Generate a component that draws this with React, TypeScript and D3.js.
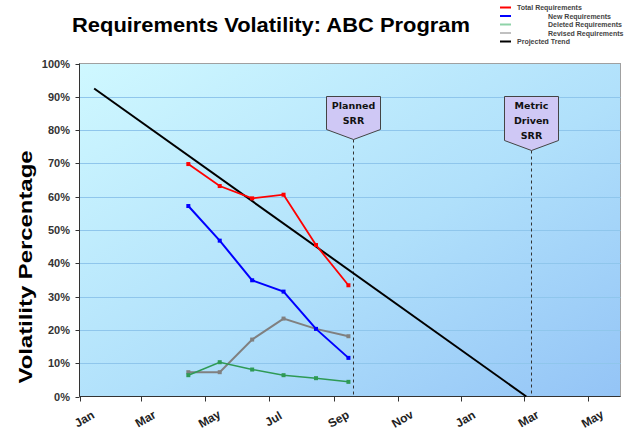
import React from "react";
import * as d3 from "d3";

const W = 627;
const H = 435;

const dataDates = ["2007-04-15", "2007-05-15", "2007-06-15", "2007-07-15", "2007-08-15", "2007-09-15"];
const totalReq = [69.8, 63.2, 59.5, 60.6, 45.5, 33.4];
const newReq = [57.2, 46.8, 34.9, 31.5, 20.3, 11.6];
const deletedReq = [6.4, 10.3, 8.1, 6.4, 5.5, 4.4];
const revisedReq = [7.3, 7.3, 17.1, 23.4, 20.3, 18.1];
const trendDates = ["2007-01-15", "2008-03-03"];
const trendValues = [92.5, 0];

const xTickDates = ["2007-01-01", "2007-03-01", "2007-05-01", "2007-07-01", "2007-09-01", "2007-11-01", "2008-01-01", "2008-03-01", "2008-05-01"];
const xTickLabels = ["Jan", "Mar", "May", "Jul", "Sep", "Nov", "Jan", "Mar", "May"];
const yTicks = [0, 10, 20, 30, 40, 50, 60, 70, 80, 90, 100];

const milestones = [
  { date: "2007-09-19", lines: ["Planned", "SRR"] },
  { date: "2008-03-07", lines: ["Metric", "Driven", "SRR"] },
];

const legendItems = [
  { label: "Total Requirements", color: "#ff0000", indent: false },
  { label: "New Requirements", color: "#0000ff", indent: true },
  { label: "Deleted Requirements", color: "#8fd3a8", indent: true },
  { label: "Revised Requirements", color: "#c0c0c0", indent: true },
  { label: "Projected Trend", color: "#000000", indent: false },
];

const series = [
  { name: "Revised", values: revisedReq, color: "#808080", width: 2 },
  { name: "Deleted", values: deletedReq, color: "#2e9a55", width: 1.5 },
  { name: "New", values: newReq, color: "#0000ff", width: 2 },
  { name: "Total", values: totalReq, color: "#ff0000", width: 1.8 },
];

const parse = d3.utcParse("%Y-%m-%d");

export default function App() {
  const left = 79.5;
  const right = 620.5;
  const top = 63.5;
  const bottom = 396.5;

  const x = d3
    .scaleUtc()
    .domain([parse("2007-01-01") as Date, parse("2008-06-01") as Date])
    .range([left, right]);
  const y = d3.scaleLinear().domain([0, 100]).range([bottom, top]);

  const line = d3
    .line<[Date, number]>()
    .x((d) => x(d[0]))
    .y((d) => y(d[1]));

  const font = "Arial, 'Liberation Sans', sans-serif";

  return (
    <div>
      <style>{`body{margin:0}`}</style>
      <svg width={W} height={H} style={{ display: "block", background: "#fff" }}>
        <defs>
          <linearGradient id="bg" x1="0" y1="0" x2="1" y2="1">
            <stop offset="0%" stopColor="#cff8ff" />
            <stop offset="55%" stopColor="#b0e0fb" />
            <stop offset="100%" stopColor="#94c4f6" />
          </linearGradient>
        </defs>

        <text
          x={72}
          y={32}
          textLength={398}
          lengthAdjust="spacingAndGlyphs"
          fontFamily={font}
          fontWeight="bold"
          fontSize={19.5}
          fill="#000"
        >
          Requirements Volatility: ABC Program
        </text>

        <rect x={left} y={top} width={right - left} height={bottom - top} fill="url(#bg)" stroke="#a0a0a0" strokeWidth={1} />

        {yTicks.map((t) => (
          <g key={t}>
            {t > 0 && t < 100 && (
              <line x1={left} x2={right} y1={Math.round(y(t)) + 0.5} y2={Math.round(y(t)) + 0.5} stroke="#8fc6ec" strokeWidth={1} />
            )}
            <line x1={left - 4} x2={left} y1={Math.round(y(t)) + 0.5} y2={Math.round(y(t)) + 0.5} stroke="#333" />
            <text x={70} y={y(t) + 4} textAnchor="end" fontFamily={font} fontWeight="bold" fontSize={11} fill="#333">
              {t}%
            </text>
          </g>
        ))}

        <line x1={left} x2={left} y1={top} y2={bottom} stroke="#333" />
        <line x1={left} x2={right} y1={bottom} y2={bottom} stroke="#333" />

        {xTickDates.map((d, i) => {
          const xx = Math.round(x(parse(d) as Date)) + 0.5;
          return (
            <g key={i}>
              <line x1={xx} x2={xx} y1={bottom} y2={bottom + 5} stroke="#333" />
              <text
                transform={`translate(${xx + 6},${bottom + 26}) rotate(-30)`}
                textAnchor="middle"
                fontFamily={font}
                fontWeight="bold"
                fontSize={12}
                fill="#222"
              >
                {xTickLabels[i]}
              </text>
            </g>
          );
        })}

        <text
          transform={`translate(32,${267}) rotate(-90)`}
          textAnchor="middle"
          textLength={233}
          lengthAdjust="spacingAndGlyphs"
          fontFamily={font}
          fontWeight="bold"
          fontSize={19}
          fill="#000"
        >
          Volatility Percentage
        </text>

        {milestones.map((m, i) => {
          const mx = Math.round(x(parse(m.date) as Date)) + 0.5;
          const halfW = 27;
          const boxTop = 96.5;
          const sideBottom = boxTop + 11 * m.lines.length + 11;
          const tip = sideBottom + 10;
          const pts = [
            [mx - halfW, boxTop],
            [mx + halfW, boxTop],
            [mx + halfW, sideBottom],
            [mx, tip],
            [mx - halfW, sideBottom],
          ];
          return (
            <g key={i}>
              <line x1={mx} x2={mx} y1={tip} y2={bottom} stroke="#333" strokeDasharray="3,3" strokeWidth={1} />
              <polygon points={pts.map((p) => p.join(",")).join(" ")} fill="#cfc8f5" stroke="#444" strokeWidth={1} />
              {m.lines.map((l, j) => (
                <text key={j} x={mx} y={boxTop + 12 + j * 15} textAnchor="middle" fontFamily="'DejaVu Sans', sans-serif" fontWeight="bold" fontSize={9.5} fill="#111">
                  {l}
                </text>
              ))}
            </g>
          );
        })}

        <path
          d={line(trendDates.map((d, i) => [parse(d) as Date, trendValues[i]]) as [Date, number][]) || ""}
          fill="none"
          stroke="#000"
          strokeWidth={2}
        />

        {series.map((s) => {
          const pts: [Date, number][] = s.values.map((v, i) => [parse(dataDates[i]) as Date, v]);
          return (
            <g key={s.name}>
              <path d={line(pts) || ""} fill="none" stroke={s.color} strokeWidth={s.width} />
              {pts.map((p, i) => (
                <rect key={i} x={x(p[0]) - 2} y={y(p[1]) - 2} width={4} height={4} fill={s.color} />
              ))}
            </g>
          );
        })}

        {legendItems.map((it, i) => {
          const ly = 7.5 + i * 8.5;
          return (
            <g key={i}>
              <line x1={500} x2={511} y1={ly} y2={ly} stroke={it.color} strokeWidth={2} />
              <text x={it.indent ? 548 : 517} y={ly + 2.5} fontFamily={font} fontWeight="bold" fontSize={7} fill="#444">
                {it.label}
              </text>
            </g>
          );
        })}
      </svg>
    </div>
  );
}
